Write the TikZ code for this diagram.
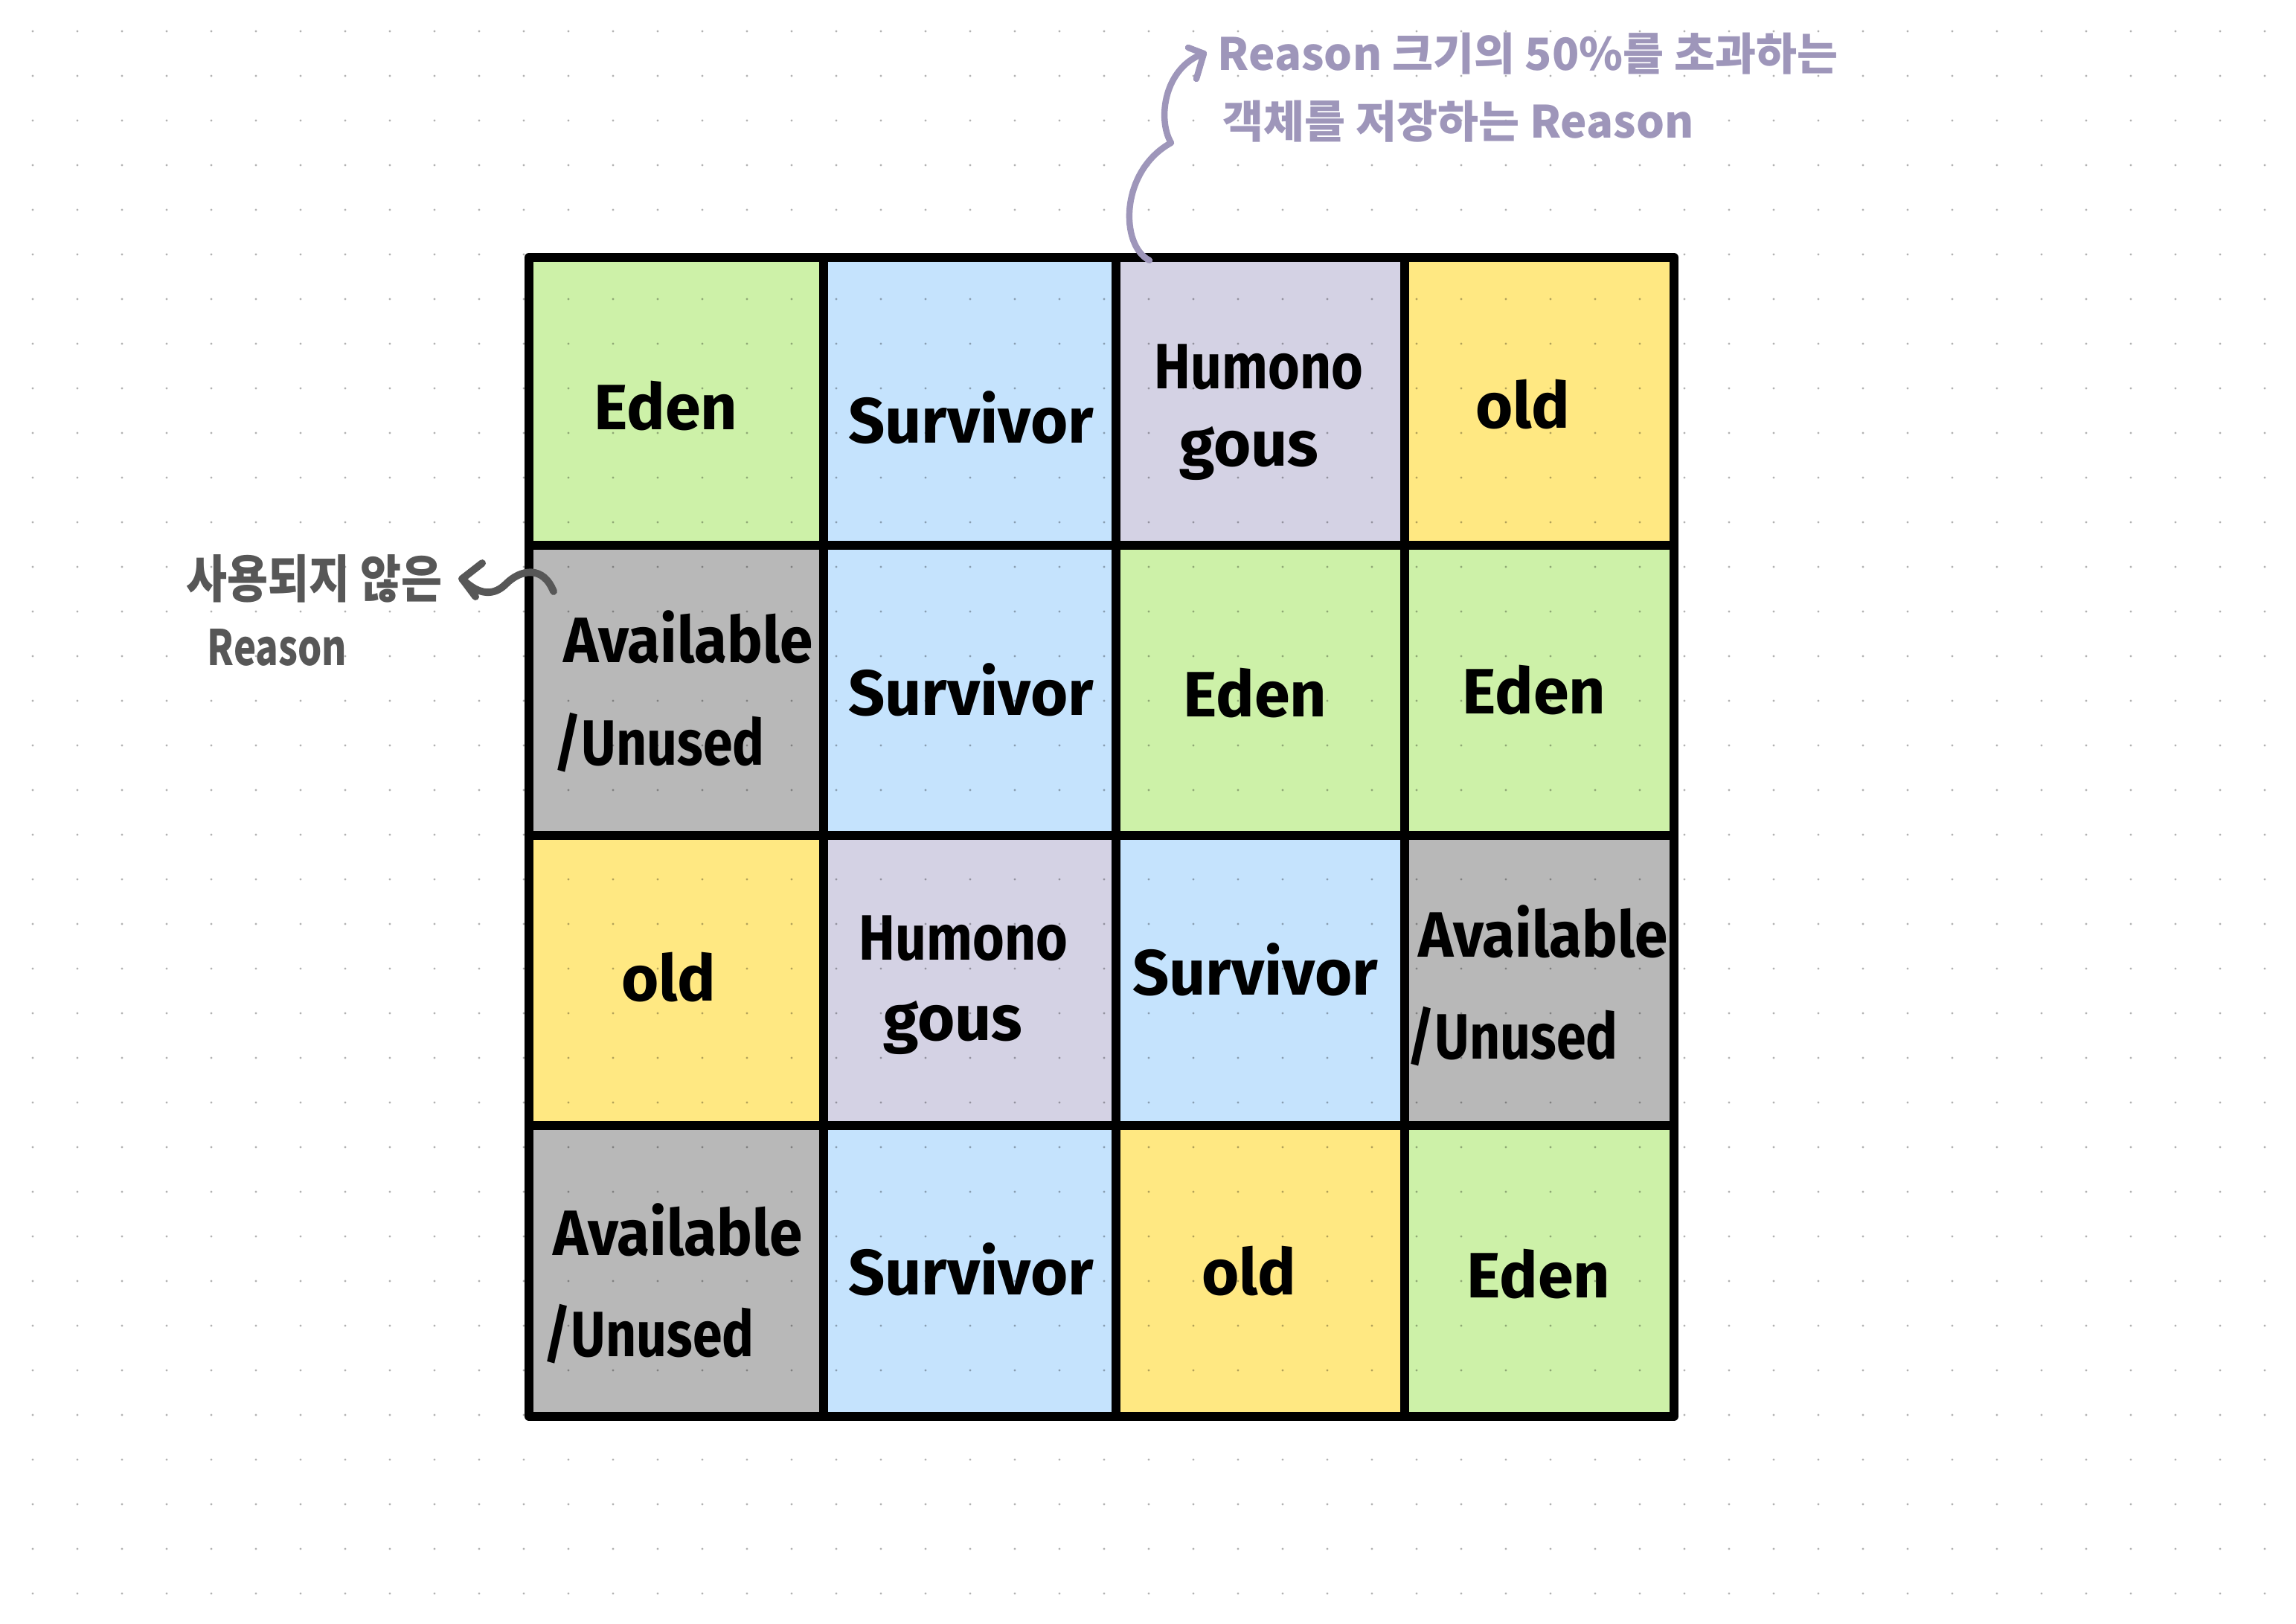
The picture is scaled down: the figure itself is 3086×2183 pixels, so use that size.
\documentclass[tikz,border=0pt]{standalone}
\usepackage{fontspec}
\setmainfont{Fira Sans}
\newfontfamily\krfont{Noto Sans CJK KR}
\usetikzlibrary{arrows.meta}
\definecolor{cgreen}{HTML}{CDF1A8}
\definecolor{cblue}{HTML}{C5E3FD}
\definecolor{clav}{HTML}{D4D2E4}
\definecolor{cyellow}{HTML}{FFE882}
\definecolor{cgrey}{HTML}{B8B8B8}
\definecolor{apurple}{HTML}{9E96BA}
\definecolor{agrey}{HTML}{575757}
\newcommand{\hsq}[2]{\scalebox{#1}[1]{#2}}
\tikzset{
  gridline/.style={line width=3.4pt, black, line cap=round, line join=round},
  lbl/.style={inner sep=0pt, font=\fontsize{24.5}{28}\selectfont\bfseries, text height=17.6pt, text depth=0pt},
  notep/.style={inner sep=0pt, anchor=west, text=apurple, font=\krfont\bfseries\fontsize{17}{20}\selectfont},
  noteg/.style={inner sep=0pt, anchor=west, text=agrey, font=\krfont\bfseries\fontsize{17}{20}\selectfont},
  annotp/.style={line width=2.4pt, apurple, line cap=round, line join=round},
  annotg/.style={line width=2.8pt, agrey, line cap=round, line join=round}
}
\begin{document}
\begin{tikzpicture}[x=0.01cm,y=-0.01cm]
\useasboundingbox (0,0) rectangle (3086,2183);
\fill[white] (0,0) rectangle (3086,2183);
% cells row 1
\fill[cgreen]  (711,346) rectangle (1107,733);
\fill[cblue]   (1107,346) rectangle (1500,733);
\fill[clav]    (1500,346) rectangle (1888,733);
\fill[cyellow] (1888,346) rectangle (2250,733);
% row 2
\fill[cgrey]   (711,733) rectangle (1107,1123);
\fill[cblue]   (1107,733) rectangle (1500,1123);
\fill[cgreen]  (1500,733) rectangle (1888,1123);
\fill[cgreen]  (1888,733) rectangle (2250,1123);
% row 3
\fill[cyellow] (711,1123) rectangle (1107,1513);
\fill[clav]    (1107,1123) rectangle (1500,1513);
\fill[cblue]   (1500,1123) rectangle (1888,1513);
\fill[cgrey]   (1888,1123) rectangle (2250,1513);
% row 4
\fill[cgrey]   (711,1513) rectangle (1107,1904);
\fill[cblue]   (1107,1513) rectangle (1500,1904);
\fill[cyellow] (1500,1513) rectangle (1888,1904);
\fill[cgreen]  (1888,1513) rectangle (2250,1904);
% dot grid
\foreach \i in {0,...,50} {
  \foreach \j in {0,...,35} {
    \fill[black, opacity=0.3] (44+60*\i, 42+60*\j) circle[radius=0.017cm];
  }
}
% grid lines
\draw[gridline] (711,346) rectangle (2250,1904);
\draw[gridline] (1107,346) -- (1107,1904);
\draw[gridline] (1500,346) -- (1500,1904);
\draw[gridline] (1888,346) -- (1888,1904);
\draw[gridline] (711,733) -- (2250,733);
\draw[gridline] (711,1123) -- (2250,1123);
\draw[gridline] (711,1513) -- (2250,1513);
% labels
\node[lbl] (e1) at (895,547) {Eden};
\node[lbl] (s1) at (1305,565) {Survivor};
\node[lbl] (h1a) at (1692,492) {\hsq{0.85}{Humono}};
\node[lbl] (h1b) at (1679,596) {gous};
\node[lbl] (o1) at (2047,545) {old};
\node[lbl] (a2a) at (925,860) {\hsq{0.93}{Available}};
\node[lbl] (a2b) at (886,998) {\hsq{0.83}{/Unused}};
\node[lbl] (s2) at (1305,931) {Survivor};
\node[lbl] (e2) at (1687,933) {Eden};
\node[lbl] (e3) at (2062,929) {Eden};
\node[lbl] (o3) at (899,1315) {old};
\node[lbl] (h3a) at (1295,1260) {\hsq{0.85}{Humono}};
\node[lbl] (h3b) at (1281,1368) {gous};
\node[lbl] (s3) at (1687,1307) {Survivor};
\node[lbl] (a3a) at (2074,1256) {\hsq{0.93}{Available}};
\node[lbl] (a3b) at (2033,1393) {\hsq{0.83}{/Unused}};
\node[lbl] (a4a) at (911,1657) {\hsq{0.93}{Available}};
\node[lbl] (a4b) at (872,1793) {\hsq{0.83}{/Unused}};
\node[lbl] (s4) at (1305,1710) {Survivor};
\node[lbl] (o4) at (1679,1710) {old};
\node[lbl] (e4) at (2068,1714) {Eden};
% annotations
\node[notep] (t1) at (1636,72) {Reason 크기의 50\%를 초과하는};
\node[notep] (t2) at (1643,163) {객체를 저장하는 Reason};
\node[noteg] (l1) at (250,778) {\scalebox{1}[1.15]{사용되지 않은}};
\node[noteg] (l2) at (278,870) {\scalebox{0.85}[1.1]{Reason}};
% top arrow
\coordinate (tstart) at (1545,350);
\coordinate (tkink) at (1574,192);
\coordinate (ttip) at ([xshift=-0.18cm]t1.west);
\draw[annotp] (tstart) .. controls (1505,330) and (1505,230) .. (tkink)
  .. controls (1555,160) and (1565,90) .. (ttip);
\draw[annotp] ([shift={(-21,-8)}]ttip) -- (ttip) -- ([shift={(-10,34)}]ttip);
% left arrow
\coordinate (lstart) at (744,795);
\coordinate (ltip) at ([xshift=0.26cm]l1.east);
\draw[annotg] (lstart) .. controls (730,760) and (700,765) .. (680,785)
  .. controls (665,800) and (645,802) .. (ltip);
\draw[annotg] ([shift={(27,-21)}]ltip) -- (ltip) -- ([shift={(18,24)}]ltip);
\end{tikzpicture}
\end{document}
